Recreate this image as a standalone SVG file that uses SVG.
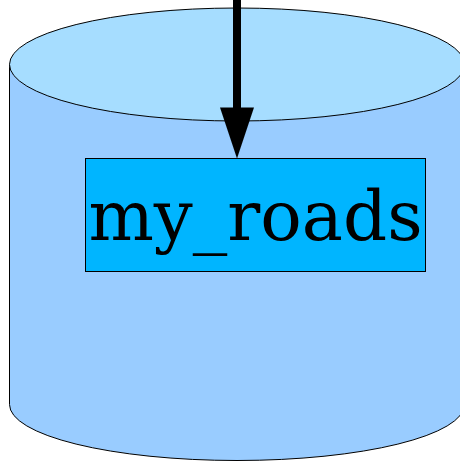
<svg xmlns="http://www.w3.org/2000/svg" width="460" height="461" viewBox="0 0 460 461">
<style>
.o{stroke:#000;stroke-width:1}
text{font-family:"DejaVu Serif",serif;font-size:69px;fill:#000}
</style>
<rect width="460" height="461" fill="#fff"/>
<g id="cylinder">
<path d="M9.500 64.500V404.500A227.500 56 0 0 0 464.500 404.500V64.500Z" fill="#99ccff" stroke="none"/>
<path class="o" d="M9.500 64.500V404.500A227.500 56 0 0 0 464.500 404.500V64.500" fill="none"/>
<ellipse class="o" cx="237" cy="64.500" rx="227.500" ry="56.500" fill="#a6ddff"/>
</g>
<g id="my_roads">
<rect class="o" x="85.500" y="158.500" width="340" height="113" fill="#00b5ff"/>
<text x="255.500" y="239.500" text-anchor="middle">my_roads</text>
</g>
<g id="connectors">
<path d="M237 0V110" stroke="#000" stroke-width="8" fill="none"/>
<polygon points="220,107.500 254,107.500 237,158.500" fill="#000"/>
</g>
</svg>
